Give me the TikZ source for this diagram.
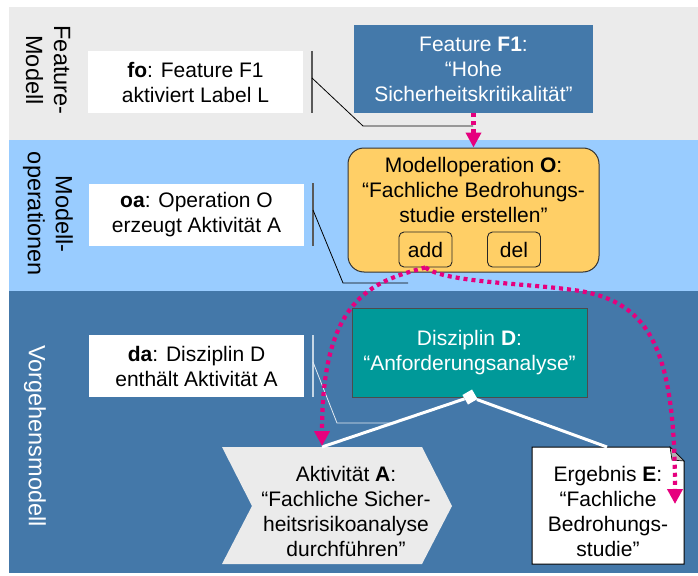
\documentclass[tikz,border=0pt]{standalone}
\usepackage{fontspec}
\setmainfont{Liberation Sans}
\usetikzlibrary{arrows.meta}

\definecolor{bandgray}{HTML}{EBEBEB}
\definecolor{bandlight}{HTML}{99CCFF}
\definecolor{banddark}{HTML}{4478A9}
\definecolor{featblue}{HTML}{4479AA}
\definecolor{opyellow}{HTML}{FFCF66}
\definecolor{discteal}{HTML}{009999}
\definecolor{linkpink}{HTML}{E6007E}
\definecolor{actgray}{HTML}{EBEBEB}

\newcommand\txtsize{\fontsize{21}{25}\selectfont}
\newcommand\lanesize{\fontsize{23.5}{28}\selectfont}

\begin{document}
\begin{tikzpicture}[x=1pt,y=-1pt,
  note/.style={fill=white, minimum width=215pt, minimum height=62pt, align=center, inner sep=0pt, font=\txtsize},
  featbox/.style={fill=featblue, text=white, minimum width=239pt, minimum height=88pt, align=center, inner sep=0pt, font=\txtsize},
  opbox/.style={fill=opyellow, draw=black!80, line width=1pt, rounded corners=16pt, minimum width=251pt, minimum height=124pt, inner sep=0pt},
  opbtn/.style={draw=black!85, line width=0.9pt, rounded corners=5pt, minimum width=53pt, minimum height=35pt, inner sep=0pt, font=\txtsize},
  discbox/.style={fill=discteal, draw=black!70, line width=1pt, text=white, minimum width=235pt, minimum height=89pt, align=center, inner sep=0pt, font=\txtsize},
  lane/.style={rotate=-90, align=center, inner sep=0pt, font=\lanesize},
  plain/.style={align=center, inner sep=0pt, font=\txtsize},
  link/.style={draw=linkpink, line width=4.2pt, dash pattern=on 4pt off 4pt, -{Triangle[length=15pt,width=15pt]}},
  callout/.style={draw=black, line width=0.8pt},
  calloutbar/.style={draw=black!65, line width=1.4pt},
  lightcallout/.style={draw=white!85!banddark, line width=0.8pt},
  lightbar/.style={draw=white!70!banddark, line width=1.4pt},
  relation/.style={draw=white, line width=3pt}
]
\useasboundingbox (0,0) rectangle (698,575);

% swim lanes
\fill[bandgray]  (9,7)   rectangle (698,140);
\fill[bandlight] (9,140) rectangle (698,291);
\fill[banddark]  (9,291) rectangle (698,573);

\node[lane] (lanefm) at (48,70) {Feature-\\Modell};
\node[lane] (laneop) at (48,214) {Modell-\\operationen};
\node[lane, text=white] (lanevm) at (35,436) {Vorgehensmodell};

% relation notes
\node[note] (fo) at (195.5,82) {\textbf{fo}: Feature F1\\aktiviert Label L};
\node[note] (oa) at (196.5,214.5) {\textbf{oa}: Operation O\\erzeugt Aktivität A};
\node[note] (da) at (196.5,366) {\textbf{da}: Disziplin D\\enthält Aktivität A};

% feature
\node[featbox] (f1) at (473.5,69) {Feature \textbf{F1}:\\“Hohe\\Sicherheitskritikalität”};

% model operation
\node[opbox] (op) at (473.5,210) {};
\node[plain] (optext) at (473.5,190) {Modelloperation \textbf{O}:\\“Fachliche Bedrohungs-\\studie erstellen”};
\node[opbtn] (add) at (425.5,249.5) {add};
\node[opbtn] (del) at (514,249.5) {del};

% discipline
\node[discbox] (disc) at (469.5,352.5) {Disziplin \textbf{D}:\\“Anforderungsanalyse”};

% activity (chevron)
\fill[actgray] (222,447) -- (422,447) -- (452,506) -- (422,564) -- (222,564) -- (252,506) -- cycle;
\node[plain] (act) at (346,511.5) {Aktivität \textbf{A}:\\“Fachliche Sicher-\\heitsrisikoanalyse\\durchführen”};

% result document with folded corner
\filldraw[fill=white, draw=black, line width=1pt] (532,447) -- (670,447) -- (684,461) -- (684,564) -- (532,564) -- cycle;
\filldraw[fill=black!30, draw=black, line width=0.6pt] (670,447) -- (672,460) -- (684,461) -- cycle;
\node[plain] (erg) at (608,511.5) {Ergebnis \textbf{E}:\\“Fachliche\\Bedrohungs-\\studie”};

% connection points
\coordinate (acttop) at (322,447);
\coordinate (ergtop) at (607,447);
\coordinate (acttip) at (322,446);
\coordinate (ergtip) at (675,504);
\coordinate (fobt) at (312,51);
\coordinate (fobb) at (312,113);
\coordinate (foout) at (312,78);
\coordinate (foend) at (473,126);
\coordinate (oabt) at (313,183);
\coordinate (oabb) at (313,246);
\coordinate (oaout) at (313,210);
\coordinate (oaend) at (408,283);
\coordinate (dabt) at (313,335);
\coordinate (dabb) at (313,397);
\coordinate (daout) at (313,362);
\coordinate (daend) at (393,423);

% callouts from the notes
\draw[calloutbar] (fobt) -- (fobb);
\draw[callout] (foout) -- (363,126) -- (foend);
\draw[calloutbar] (oabt) -- (oabb);
\draw[callout] (oaout) -- (343,283) -- (oaend);
\draw[lightbar] (dabt) -- (dabb);
\draw[lightcallout] (daout) -- (337,423) -- (daend);

% containment (aggregation) lines
\node[fill=white, minimum size=11pt, inner sep=0pt, rotate=30] (agg) at (470,397) {};
\draw[relation] (agg) -- (acttop);
\draw[relation] (agg) -- (ergtop);

% dotted links
\draw[link] (f1.south) -- (op.north);
\draw[link] (add.south) .. controls (370,282) and (322,300) .. (acttip);
\draw[link] (add.south) .. controls (445,283) and (530,283) .. (580,291)
  .. controls (650,303) and (675,350) .. (ergtip);
\end{tikzpicture}
\end{document}
